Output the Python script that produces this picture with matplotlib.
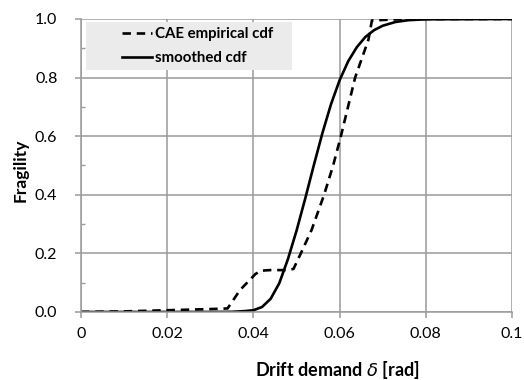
import matplotlib.pyplot as plt
from matplotlib.patches import Rectangle
from matplotlib.ticker import MultipleLocator

# empirical cdf from the CAE runs (drift in rad, fragility)
emp_drift = [0.0, 0.01, 0.02, 0.03, 0.034, 0.0369, 0.0405, 0.0418, 0.044,
             0.048, 0.0493, 0.051, 0.0535, 0.0564, 0.0585, 0.0603, 0.0636,
             0.0667, 0.0675, 0.075, 0.1]
emp_frag = [0.0, 0.002, 0.006, 0.01, 0.012, 0.075, 0.13, 0.141, 0.143,
            0.143, 0.147, 0.2, 0.28, 0.4, 0.5, 0.6, 0.8,
            0.93, 0.995, 1.0, 1.0]

# smoothed (fitted) cdf
fit_drift = [0.0, 0.030, 0.035, 0.038, 0.040, 0.042, 0.044, 0.046, 0.048,
             0.050, 0.052, 0.054, 0.056, 0.058, 0.060, 0.062, 0.064, 0.066,
             0.068, 0.070, 0.073, 0.076, 0.080, 0.1]
fit_frag = [0.0, 0.0, 0.0005, 0.003, 0.006, 0.017, 0.045, 0.098, 0.18,
            0.277, 0.386, 0.5, 0.61, 0.709, 0.791, 0.856, 0.904, 0.939,
            0.962, 0.977, 0.99, 0.996, 0.999, 1.0]

x_ticks = [0.0, 0.02, 0.04, 0.06, 0.08, 0.1]
x_labels = ['0', '0.02', '0.04', '0.06', '0.08', '0.1']
y_ticks = [0.0, 0.2, 0.4, 0.6, 0.8, 1.0]
y_labels = ['0.0', '0.2', '0.4', '0.6', '0.8', '1.0']

plt.rcParams['font.family'] = ['Lato', 'DejaVu Sans']

fig = plt.figure(figsize=(5.24, 3.80), dpi=100)
ax = fig.add_axes([0.1546, 0.179, 0.8225, 0.771])

ax.plot(emp_drift, emp_frag, color='black', lw=1.9, ls=(0, (3.2, 2.2)),
        label='CAE empirical cdf')
ax.plot(fit_drift, fit_frag, color='black', lw=1.9, label='smoothed cdf')

ax.set_xlim(0, 0.1)
ax.set_ylim(0, 1.0)
ax.set_xticks(x_ticks, x_labels)
ax.set_yticks(y_ticks, y_labels)
ax.yaxis.set_minor_locator(MultipleLocator(0.1))

grid_col = '#9a9a9a'
ax.grid(True, which='major', color=grid_col, lw=1.1)
ax.set_axisbelow(True)
for side in ['top', 'right']:
    ax.spines[side].set_visible(False)
for side in ['left', 'bottom']:
    ax.spines[side].set_color(grid_col)
    ax.spines[side].set_linewidth(1.1)

ax.tick_params(axis='both', which='major', length=4, color=grid_col,
               width=1.1, labelsize=11.5, labelcolor='black')
ax.tick_params(axis='y', which='major', pad=13)
ax.tick_params(axis='x', which='major', pad=7)
ax.tick_params(axis='y', which='minor', direction='in', length=3,
               color=grid_col, width=1.0)

ax.set_xlabel(r'Drift demand $\delta$ [rad]', fontsize=13, fontweight='bold')
ax.xaxis.set_label_coords(0.594, -0.198)
ax.xaxis.label.set_va('center')
ax.set_ylabel('Fragility', fontsize=12.5, fontweight='bold')
ax.yaxis.set_label_coords(-0.141, 0.485)
ax.yaxis.label.set_va('center')

# grey legend panel
ax.add_patch(Rectangle((0.0116, 0.826), 0.478, 0.164, transform=ax.transAxes,
                       facecolor='#ebebeb', edgecolor='none', zorder=2.5))
ax.legend(loc='upper left', bbox_to_anchor=(0.094, 0.972),
          prop={'weight': 'bold', 'size': 10.8}, frameon=False,
          handlelength=2.0, handletextpad=0.25, borderpad=0.0,
          borderaxespad=0.0, labelspacing=0.65)

fig.savefig('out.png', dpi=100)
